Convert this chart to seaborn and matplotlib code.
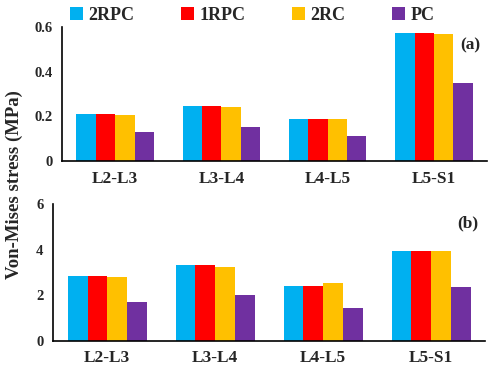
import matplotlib
matplotlib.use("Agg")
import matplotlib.pyplot as plt
import seaborn as sns
import pandas as pd

levels = ["L2-L3", "L3-L4", "L4-L5", "L5-S1"]
models = ["2RPC", "1RPC", "2RC", "PC"]
colors = ["#00B0F0", "#FF0000", "#FFC000", "#7030A0"]

# (a) stress values
stress_a = {
    "2RPC": [0.210, 0.245, 0.187, 0.572],
    "1RPC": [0.210, 0.245, 0.187, 0.572],
    "2RC": [0.206, 0.240, 0.186, 0.569],
    "PC": [0.128, 0.151, 0.113, 0.348],
}
# (b) stress values
stress_b = {
    "2RPC": [2.85, 3.31, 2.40, 3.92],
    "1RPC": [2.85, 3.31, 2.40, 3.92],
    "2RC": [2.81, 3.23, 2.55, 3.92],
    "PC": [1.71, 1.99, 1.44, 2.37],
}


def to_long(d):
    rows = []
    for m in models:
        for lv, v in zip(levels, d[m]):
            rows.append({"level": lv, "model": m, "stress": v})
    return pd.DataFrame(rows)


sns.set_style("white")
plt.rcParams["font.family"] = ["Liberation Serif", "DejaVu Serif"]
plt.rcParams["font.weight"] = "bold"

fig = plt.figure(figsize=(4.93, 3.70), dpi=100)
ax1 = fig.add_axes([0.126, 0.565, 0.862, 0.362])
ax2 = fig.add_axes([0.108, 0.079, 0.876, 0.370])

for ax, d, ymax, yt, lab in [(ax1, stress_a, 0.6, [0, 0.2, 0.4, 0.6], "(a)"),
                            (ax2, stress_b, 6, [0, 2, 4, 6], "(b)")]:
    sns.barplot(data=to_long(d), x="level", y="stress", hue="model",
                palette=colors, width=0.73, gap=0, saturation=1,
                edgecolor="none", legend=(ax is ax1), ax=ax)
    ax.set_ylim(0, ymax)
    ax.set_yticks(yt)
    ax.set_yticklabels([f"{t:g}" for t in yt], fontsize=10.5, fontweight="bold")
    ax.set_xlim(-0.5, 3.5)
    for t in ax.get_xticklabels():
        t.set_fontsize(12.5)
        t.set_fontweight("bold")
    ax.tick_params(axis="both", length=0, pad=7)
    ax.set_xlabel("")
    ax.set_ylabel("")
    for s in ["top", "right"]:
        ax.spines[s].set_visible(False)
    for s in ["left", "bottom"]:
        ax.spines[s].set_color("black")
        ax.spines[s].set_linewidth(1.2)
    ax.text(0.985, 0.86, lab, transform=ax.transAxes, ha="right",
            va="center", fontsize=12.5, fontweight="bold")

handles, labels = ax1.get_legend_handles_labels()
ax1.get_legend().remove()
fig.legend(handles, labels, loc="upper left", bbox_to_anchor=(0.11, 1.025),
           ncol=4, frameon=False, handlelength=0.7, handleheight=0.7,
           handletextpad=0.3, columnspacing=2.6,
           prop={"size": 13, "weight": "bold"})

fig.text(0.03, 0.5, "Von-Mises stress (MPa)", rotation=90, ha="center",
         va="center", fontsize=13.5, fontweight="bold")

fig.savefig("out.png", dpi=100)
